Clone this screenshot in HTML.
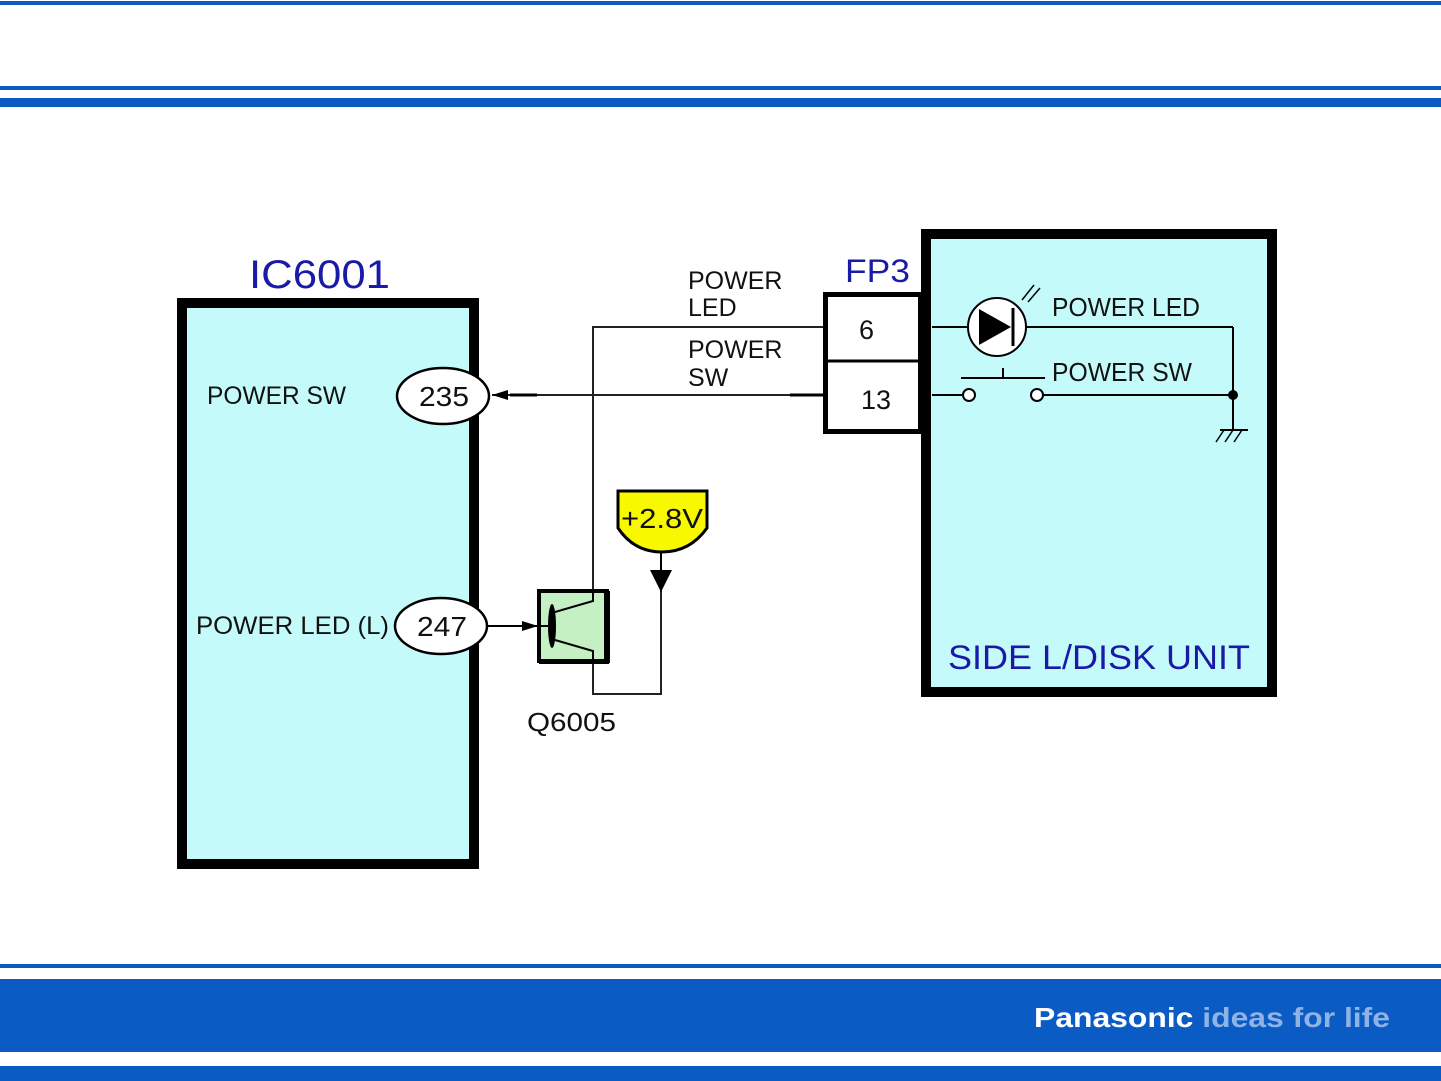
<!DOCTYPE html>
<html><head><meta charset="utf-8"><style>
html,body{margin:0;padding:0;background:#fff}
svg{display:block}
text{font-family:"Liberation Sans",Arial,sans-serif}
</style></head><body>
<svg width="1441" height="1081" viewBox="0 0 1441 1081" xmlns="http://www.w3.org/2000/svg">
<rect x="0" y="1" width="1441" height="4" fill="#0a5cc4"/>
<rect x="0" y="86" width="1441" height="4" fill="#0a5cc4"/>
<rect x="0" y="98" width="1441" height="9" fill="#0a5cc4"/>
<rect x="0" y="964" width="1441" height="4" fill="#0a5cc4"/>
<rect x="0" y="979" width="1441" height="73" fill="#0a5cc4"/>
<rect x="0" y="1066" width="1441" height="15" fill="#0a5cc4"/>
<text x="1034" y="1027" font-size="28" font-weight="bold" fill="#fff" textLength="356" lengthAdjust="spacingAndGlyphs">Panasonic <tspan fill="#8fb3e6">ideas for life</tspan></text>

<!-- IC6001 -->
<rect x="182" y="303" width="292" height="561" fill="#c4fafa" stroke="#000" stroke-width="10"/>
<text x="249" y="288" font-size="40" fill="#1a1aa8" textLength="141" lengthAdjust="spacingAndGlyphs">IC6001</text>
<text x="207" y="404" font-size="25" fill="#111" textLength="139" lengthAdjust="spacingAndGlyphs">POWER SW</text>
<text x="196" y="634" font-size="25" fill="#111" textLength="193" lengthAdjust="spacingAndGlyphs">POWER LED (L)</text>

<!-- side unit -->
<rect x="926" y="234" width="346" height="458" fill="#c4fafa" stroke="#000" stroke-width="10"/>
<text x="948" y="669" font-size="34" fill="#1a1aa8" textLength="302" lengthAdjust="spacingAndGlyphs">SIDE L/DISK UNIT</text>

<!-- FP3 -->
<rect x="825.5" y="294.5" width="95" height="137" fill="#fff" stroke="#000" stroke-width="5"/>
<line x1="825" y1="361" x2="920" y2="361" stroke="#000" stroke-width="3"/>
<text x="845" y="282" font-size="32" fill="#1a1aa8" textLength="65" lengthAdjust="spacingAndGlyphs">FP3</text>
<text x="859" y="339" font-size="27" fill="#111">6</text>
<text x="861" y="409" font-size="27" fill="#111">13</text>

<!-- labels -->
<text font-size="25" fill="#111"><tspan x="688" y="289">POWER</tspan><tspan x="688" y="316">LED</tspan><tspan x="688" y="358">POWER</tspan><tspan x="688" y="386">SW</tspan></text>

<!-- wires -->
<polyline points="823,327 593,327 593,694 661,694 661,575" fill="none" stroke="#222" stroke-width="2"/>
<line x1="823" y1="395" x2="492" y2="395" stroke="#222" stroke-width="2"/>
<line x1="790" y1="395" x2="823" y2="395" stroke="#000" stroke-width="3"/>
<line x1="510" y1="395" x2="537" y2="395" stroke="#000" stroke-width="3"/>
<polygon points="492,395 508,390 508,400" fill="#000"/>
<line x1="488" y1="626" x2="538" y2="626" stroke="#000" stroke-width="2"/>
<polygon points="538,626 522,621 522,631" fill="#000"/>

<ellipse cx="443" cy="396" rx="46" ry="28" fill="#fff" stroke="#000" stroke-width="2.5"/>
<text x="419" y="406" font-size="28" fill="#111" textLength="50" lengthAdjust="spacingAndGlyphs">235</text>
<ellipse cx="441" cy="626" rx="46" ry="28" fill="#fff" stroke="#000" stroke-width="2.5"/>
<text x="417" y="636" font-size="28" fill="#111" textLength="50" lengthAdjust="spacingAndGlyphs">247</text>

<!-- transistor -->
<rect x="539" y="591" width="68" height="70" fill="#c4f0c4" stroke="#000" stroke-width="4"/>
<rect x="604" y="591" width="6" height="72" fill="#000"/>
<rect x="539" y="659" width="70" height="5" fill="#000"/>
<line x1="538" y1="626" x2="550" y2="626" stroke="#000" stroke-width="2"/>
<ellipse cx="552" cy="626" rx="4" ry="22" fill="#000"/>
<polyline points="555,612 593,601 593,591" fill="none" stroke="#000" stroke-width="2"/>
<polyline points="555,640 593,651 593,664" fill="none" stroke="#000" stroke-width="2"/>
<text x="527" y="731" font-size="26" fill="#111" textLength="89" lengthAdjust="spacingAndGlyphs">Q6005</text>

<!-- +2.8V -->
<path d="M618,491 L707,491 L707,528 Q690,552 662,552 Q634,552 618,528 Z" fill="#f8f800" stroke="#000" stroke-width="3"/>
<text x="621" y="528" font-size="28" fill="#111" textLength="82" lengthAdjust="spacingAndGlyphs">+2.8V</text>
<line x1="661" y1="552" x2="661" y2="575" stroke="#000" stroke-width="2"/>
<polygon points="650,570 672,570 661,592" fill="#000"/>

<!-- side unit internals -->
<line x1="932" y1="327" x2="1233" y2="327" stroke="#000" stroke-width="2"/>
<line x1="1233" y1="327" x2="1233" y2="430" stroke="#000" stroke-width="2"/>
<circle cx="997" cy="327" r="29" fill="#fff" stroke="#000" stroke-width="2"/>
<polygon points="979,309 979,345 1011,327" fill="#000"/>
<line x1="1013" y1="308" x2="1013" y2="346" stroke="#000" stroke-width="3"/>
<line x1="1022" y1="300" x2="1034" y2="285" stroke="#000" stroke-width="1.5"/>
<line x1="1028" y1="302" x2="1040" y2="288" stroke="#000" stroke-width="1.5"/>
<text x="1052" y="316" font-size="26" fill="#111" textLength="148" lengthAdjust="spacingAndGlyphs">POWER LED</text>
<line x1="932" y1="395" x2="962" y2="395" stroke="#000" stroke-width="2"/>
<line x1="1043" y1="395" x2="1233" y2="395" stroke="#000" stroke-width="2"/>
<circle cx="969" cy="395" r="6" fill="#fff" stroke="#000" stroke-width="2"/>
<circle cx="1037" cy="395" r="6" fill="#fff" stroke="#000" stroke-width="2"/>
<line x1="961" y1="378" x2="1045" y2="378" stroke="#000" stroke-width="2"/>
<line x1="1003" y1="368" x2="1003" y2="378" stroke="#000" stroke-width="2"/>
<text x="1052" y="381" font-size="26" fill="#111" textLength="140" lengthAdjust="spacingAndGlyphs">POWER SW</text>
<circle cx="1233" cy="395" r="5" fill="#000"/>
<line x1="1220" y1="430" x2="1248" y2="430" stroke="#000" stroke-width="2"/>
<line x1="1224" y1="430" x2="1216" y2="442" stroke="#000" stroke-width="1.5"/>
<line x1="1233" y1="430" x2="1225" y2="442" stroke="#000" stroke-width="1.5"/>
<line x1="1242" y1="430" x2="1234" y2="442" stroke="#000" stroke-width="1.5"/>
</svg>
</body></html>
